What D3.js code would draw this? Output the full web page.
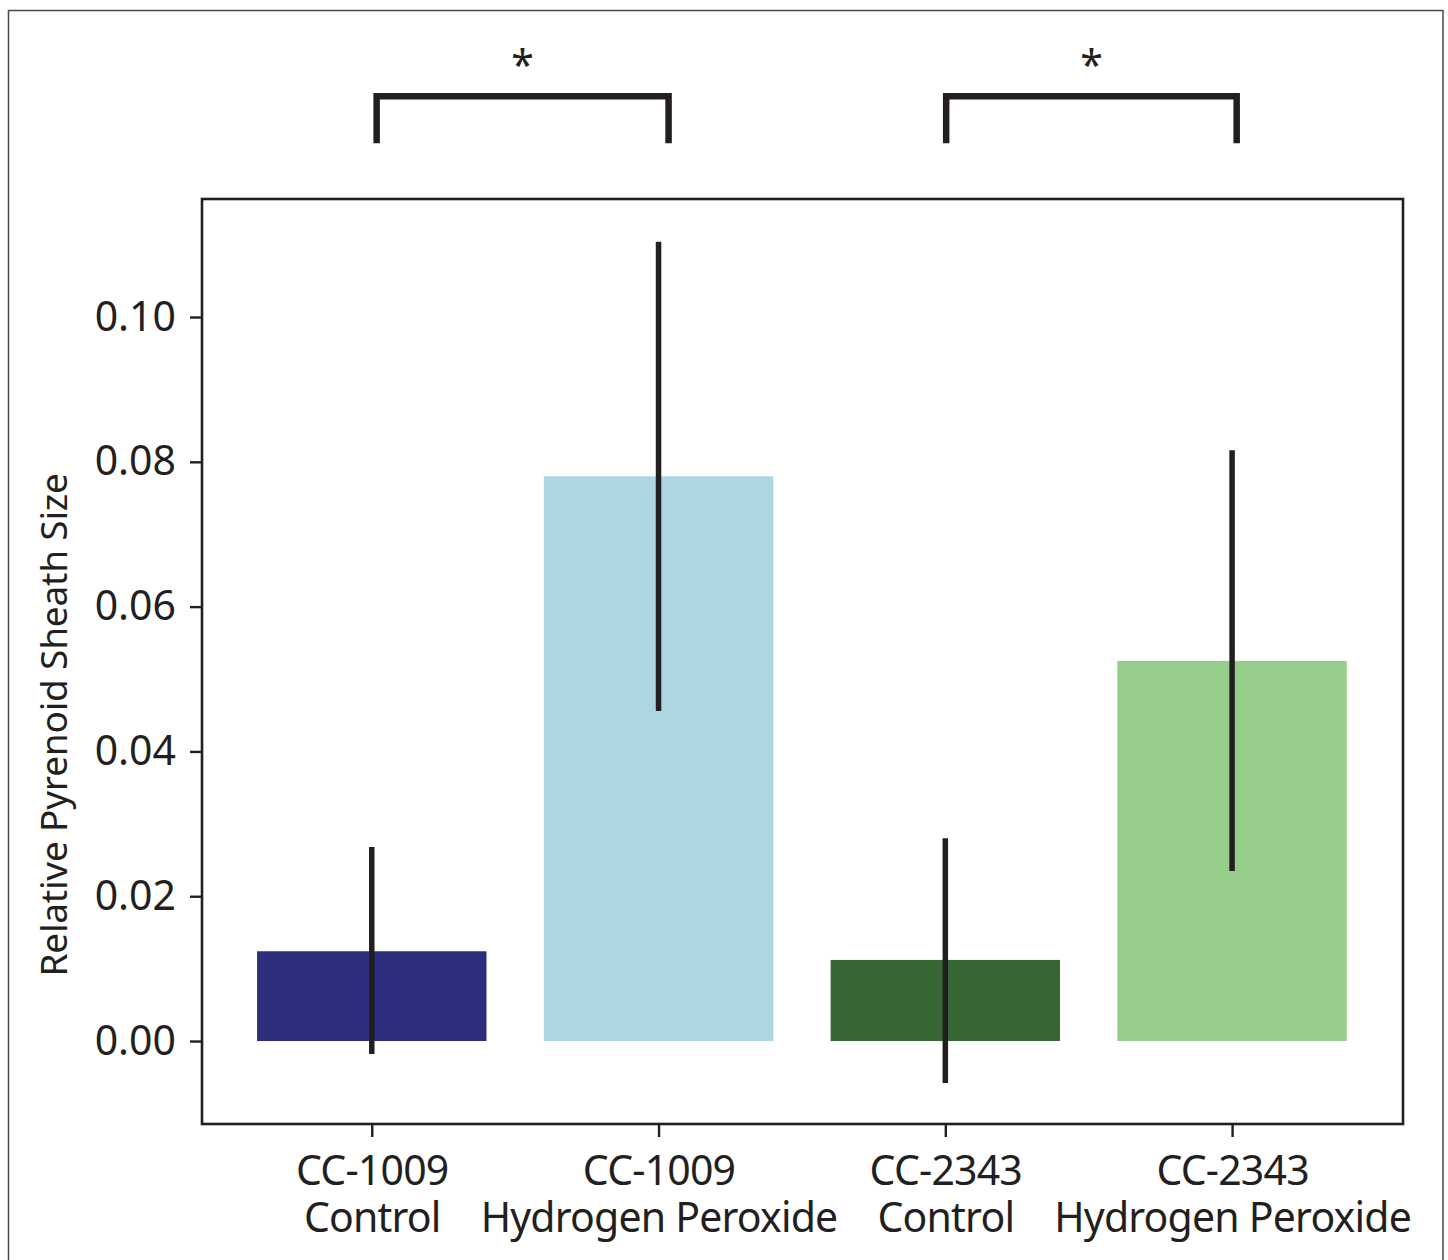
<!DOCTYPE html>
<html>
<head>
<meta charset="utf-8">
<script src="https://cdn.jsdelivr.net/npm/d3@7"></script>
<style>
  html, body { margin: 0; padding: 0; background: #fff; }
  svg { display: block; }
  text { font-family: "Noto Sans", "Open Sans", sans-serif; fill: #231f20; }
</style>
</head>
<body>
<svg id="chart" width="1448" height="1260"></svg>
<script>
// ---- data ----
const categories = ["CC-1009\nControl", "CC-1009\nHydrogen Peroxide", "CC-2343\nControl", "CC-2343\nHydrogen Peroxide"];
const means = [0.0124, 0.0780, 0.0112, 0.0525];
const errLow = [-0.0018, 0.0456, -0.0058, 0.0235];
const errHigh = [0.0268, 0.1104, 0.0280, 0.0816];
const barColors = ["#2e2e7e", "#add5e2", "#376834", "#97cd8b"];
const yTicks = [0.00, 0.02, 0.04, 0.06, 0.08, 0.10];
const yLabel = "Relative Pyrenoid Sheath Size";
// significance brackets: [from index, to index, label]
const brackets = [[0.017, 1.035, "*"], [2.003, 3.016, "*"]];

// ---- layout ----
const svg = d3.select("#chart");
const ink = "#231f20";
const plot = { left: 202, right: 1403, top: 199, bottom: 1124 };

// outer figure border
svg.append("rect")
  .attr("x", 8.5).attr("y", 10.5).attr("width", 1434.5).attr("height", 1300)
  .attr("fill", "none").attr("stroke", "#4a4a4a").attr("stroke-width", 1.5);

const x = d3.scaleLinear().domain([-0.592, 3.596]).range([plot.left, plot.right]);
const y = d3.scaleLinear().domain([-0.01146, 0.1163]).range([plot.bottom, plot.top]);
const barW = 0.8;

const g = svg.append("g");

// bars
g.selectAll("rect.bar").data(means).join("rect")
  .attr("class", "bar")
  .attr("x", (d, i) => x(i - barW / 2))
  .attr("width", (d, i) => x(i + barW / 2) - x(i - barW / 2))
  .attr("y", d => y(d))
  .attr("height", d => y(0) - y(d))
  .attr("fill", (d, i) => barColors[i]);

// error bars
g.selectAll("line.err").data(means).join("line")
  .attr("class", "err")
  .attr("x1", (d, i) => x(i)).attr("x2", (d, i) => x(i))
  .attr("y1", (d, i) => y(errLow[i])).attr("y2", (d, i) => y(errHigh[i]))
  .attr("stroke", ink).attr("stroke-width", 5.5);

// frame
g.append("rect")
  .attr("x", plot.left).attr("y", plot.top)
  .attr("width", plot.right - plot.left).attr("height", plot.bottom - plot.top)
  .attr("fill", "none").attr("stroke", ink).attr("stroke-width", 2.6);

// y axis
const yAxis = d3.axisLeft(y).tickValues(yTicks).tickFormat(d3.format(".2f")).tickSize(12).tickPadding(14);
const yg = svg.append("g").attr("transform", `translate(${plot.left},0)`).call(yAxis);
yg.select(".domain").remove();
yg.selectAll(".tick line").attr("stroke", ink).attr("stroke-width", 2.4);
yg.selectAll(".tick text").attr("font-size", 41).attr("fill", ink)
  .attr("font-family", "'Noto Sans', sans-serif");

// x axis
const xAxis = d3.axisBottom(x).tickValues(d3.range(categories.length)).tickFormat("").tickSize(13);
const xg = svg.append("g").attr("transform", `translate(0,${plot.bottom})`).call(xAxis);
xg.select(".domain").remove();
xg.selectAll(".tick line").attr("stroke", ink).attr("stroke-width", 2.4);
xg.selectAll(".tick").each(function (d) {
  const lines = categories[d].split("\n");
  lines.forEach((ln, k) => {
    d3.select(this).append("text")
      .attr("x", 0).attr("y", 61 + k * 47)
      .attr("text-anchor", "middle").attr("font-size", 41).attr("fill", ink)
      .attr("letter-spacing", "-0.8px")
      .attr("font-family", "'Noto Sans', sans-serif")
      .text(ln);
  });
});

// y label
svg.append("text")
  .attr("transform", `translate(67,725) rotate(-90)`)
  .attr("text-anchor", "middle")
  .attr("font-size", 37)
  .attr("letter-spacing", "-0.2px")
  .text(yLabel);

// significance brackets
const bTop = 0.1305, bBot = 0.1240;
brackets.forEach(([a, b, lbl]) => {
  svg.append("path")
    .attr("d", `M${x(a)},${y(bBot)} L${x(a)},${y(bTop)} L${x(b)},${y(bTop)} L${x(b)},${y(bBot)}`)
    .attr("fill", "none").attr("stroke", ink).attr("stroke-width", 6.5)
    .attr("stroke-linejoin", "miter").attr("stroke-linecap", "butt");
  svg.append("text")
    .attr("x", (x(a) + x(b)) / 2).attr("y", 80)
    .attr("text-anchor", "middle").attr("font-size", 41)
    .text(lbl);
});
</script>
</body>
</html>
